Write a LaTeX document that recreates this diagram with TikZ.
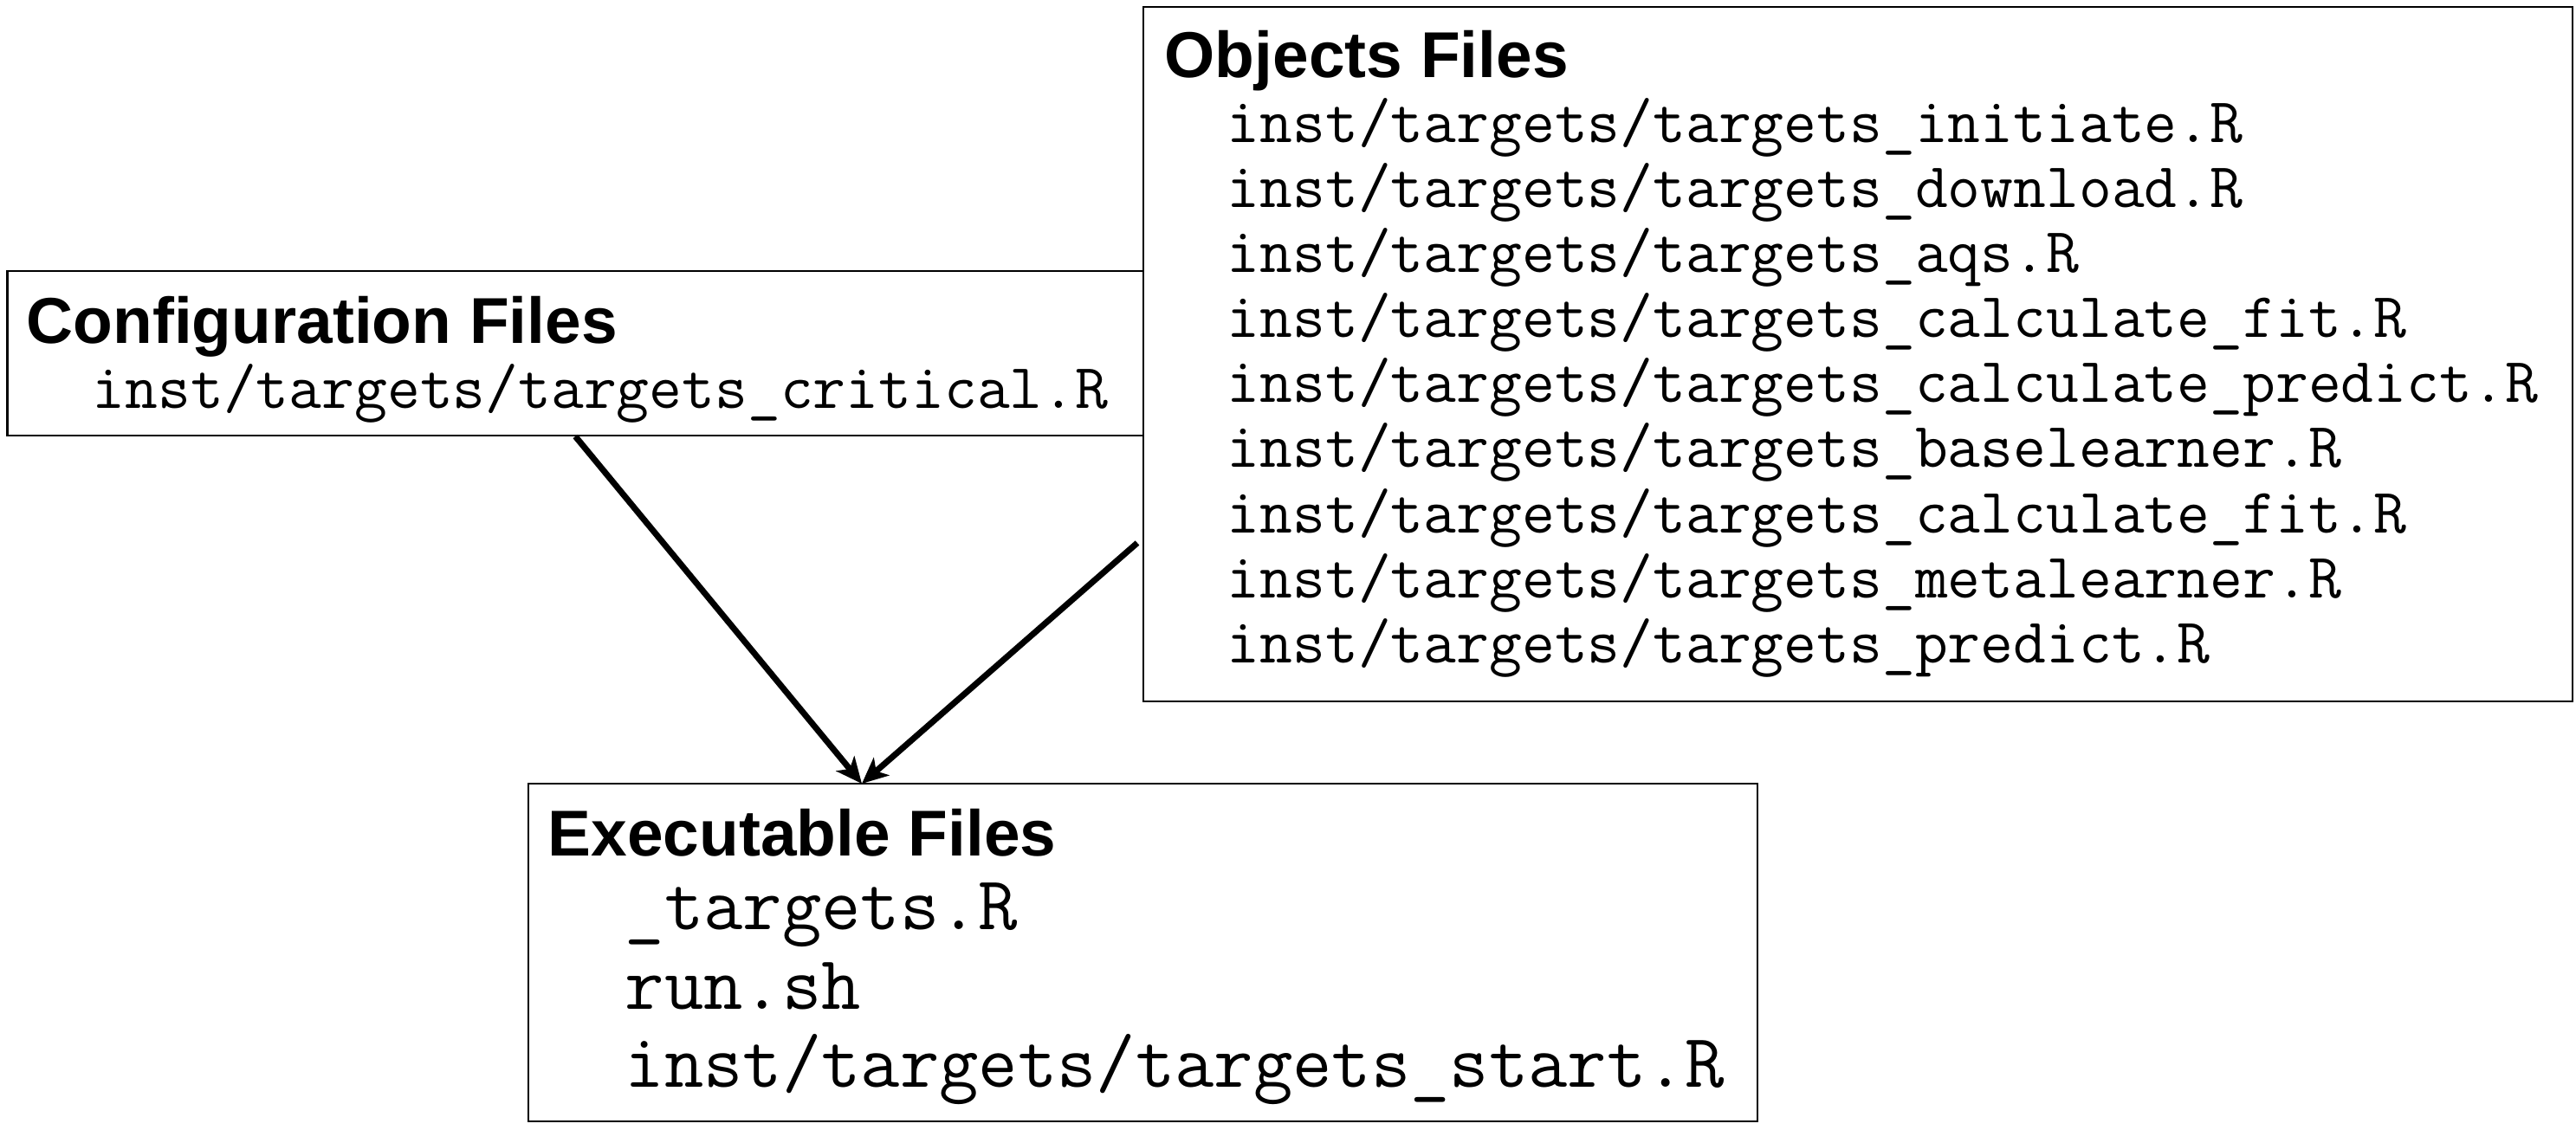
\documentclass[tikz,border=0pt]{standalone}
\usepackage{fontspec}
\setsansfont{Liberation Sans}
\usetikzlibrary{arrows.meta}
\tikzset{font=\ttfamily\fontsize{20.9}{24}\selectfont}

\begin{document}
\begin{tikzpicture}[box/.style={draw,line width=0.57pt,inner sep=0pt},
    head/.style={anchor=base west,inner sep=0pt,font=\sffamily\bfseries\fontsize{21.3}{25}\selectfont},
    file/.style={anchor=base west,inner sep=0pt},
    bigfile/.style={file,font=\ttfamily\fontsize{25.05}{29}\selectfont},
    link/.style={-{Stealth[length=0.3cm,width=0.27cm,inset=0.08cm]},line width=2pt}]
      \useasboundingbox (0,0) rectangle (29.74,13.04);

      \node[box,minimum height={1.90cm},minimum width={13.115cm}] (Conf) at (6.6425,8.96) {};
      \node[head] (ConfT) at (0.30,9.07) {Configuration Files};
      \node[file] (Conf0) at (1.06,8.32) {inst/targets/targets\_critical.R};

      \node[box,minimum height={8.02cm},minimum width={16.50cm}] (Obj) at (21.45,8.95) {};
      \node[head] (ObjT) at (13.44,12.14) {Objects Files};
      \node[file] (Obj0) at (14.16,11.39) {inst/targets/targets\_initiate.R};
      \node[file] (Obj1) at (14.16,10.64) {inst/targets/targets\_download.R};
      \node[file] (Obj2) at (14.16,9.89) {inst/targets/targets\_aqs.R};
      \node[file] (Obj3) at (14.16,9.14) {inst/targets/targets\_calculate\_fit.R};
      \node[file] (Obj4) at (14.16,8.39) {inst/targets/targets\_calculate\_predict.R};
      \node[file] (Obj5) at (14.16,7.64) {inst/targets/targets\_baselearner.R};
      \node[file] (Obj6) at (14.16,6.89) {inst/targets/targets\_calculate\_fit.R};
      \node[file] (Obj7) at (14.16,6.14) {inst/targets/targets\_metalearner.R};
      \node[file] (Obj8) at (14.16,5.39) {inst/targets/targets\_predict.R};

      \node[box,minimum height={3.90cm},minimum width={14.19cm}] (Exec) at (13.195,2.04) {};
      \node[head] (ExecT) at (6.32,3.16) {Executable Files};
      \node[bigfile] (Exec0) at (7.21,2.31) {\_targets.R};
      \node[bigfile] (Exec1) at (7.21,1.39) {run.sh};
      \node[bigfile] (Exec2) at (7.21,0.49) {inst/targets/targets\_start.R};

      \coordinate (ObjOut) at (13.13,6.77);
      \coordinate (ExecIn) at (9.95,3.99);

      \path [link](Conf.south) edge node {} (ExecIn);
      \path [link](ObjOut) edge node {} (ExecIn);
  \end{tikzpicture}
\end{document}
